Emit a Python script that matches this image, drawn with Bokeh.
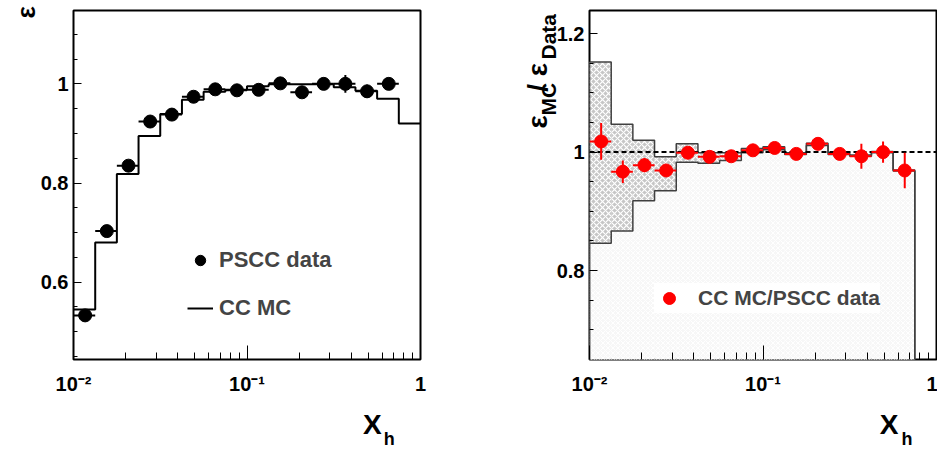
import numpy as np
from bokeh.plotting import figure
from bokeh.models import FixedTicker, Label, Legend, LegendItem, Range1d
from bokeh.layouts import row
from bokeh.embed import file_html
from bokeh.resources import INLINE

# ---------------- data ----------------
bin_edges = [0.01, 0.01334, 0.01778, 0.02371, 0.03162, 0.04217, 0.05623, 0.07499,
             0.1, 0.1334, 0.1778, 0.2371, 0.3162, 0.4217, 0.5623, 0.7499, 1.0]
mc_eff = [0.545, 0.680, 0.818, 0.895, 0.939, 0.968, 0.984, 0.988,
          0.995, 0.999, 0.999, 0.999, 0.993, 0.986, 0.970, 0.920]
data_eff = [0.533, 0.703, 0.835, 0.924, 0.938, 0.974, 0.989, 0.987,
            0.988, 1.001, 0.983, 1.000, 1.000, 0.985, 1.000]
data_err = [0.005, 0.005, 0.004, 0.004, 0.004, 0.003, 0.003, 0.003,
            0.003, 0.003, 0.004, 0.004, 0.018, 0.013, 0.004]
ratio = [1.018, 0.967, 0.978, 0.969, 0.999, 0.992, 0.993, 1.003,
         1.007, 0.997, 1.014, 0.997, 0.993, 1.000, 0.969]
ratio_err = [0.031, 0.019, 0.012, 0.006, 0.005, 0.004, 0.004, 0.004,
             0.004, 0.004, 0.005, 0.005, 0.021, 0.018, 0.030]
band_upper = [1.152, 1.047, 1.020, 0.992, 1.014, 0.999, 0.999, 1.006,
              1.009, 0.999, 1.015, 0.999, 0.995, 1.001, 0.970]
band_lower = [0.846, 0.867, 0.918, 0.935, 0.983, 0.981, 0.986, 0.999,
              1.004, 0.996, 1.011, 0.996, 0.993, 0.999, 0.968]

x_major = [0.01, 0.1, 1]
x_minor = [0.02, 0.03, 0.04, 0.05, 0.06, 0.07, 0.08, 0.09,
           0.2, 0.3, 0.4, 0.5, 0.6, 0.7, 0.8, 0.9]
x_labels = {0.01: "10\u207b\u00b2", 0.1: "10\u207b\u00b9", 1: "1"}
y1_major = [0.6, 0.8, 1.0]
y1_labels = {0.6: "0.6", 0.8: "0.8", 1.0: "1"}
y1_minor = [0.45, 0.5, 0.55, 0.65, 0.7, 0.75, 0.85, 0.9, 0.95, 1.05, 1.1]
y2_major = [0.8, 1.0, 1.2]
y2_labels = {0.8: "0.8", 1.0: "1", 1.2: "1.2"}
y2_minor = [0.7, 0.75, 0.85, 0.9, 0.95, 1.05, 1.1, 1.15]

X_RANGE = (0.01, 1.0)
Y1_RANGE = (0.444, 1.148)
Y2_RANGE = (0.650, 1.239)

FONT = "Liberation Sans"
W1, W2, H = 455, 482, 449
FL1, FL2, FT, FW, FH = 73, 134, 10, 347, 349
NB = "\u00a0"

n_pts = len(data_eff)
lo = bin_edges[:n_pts]
hi = bin_edges[1:n_pts + 1]
centers = [(a + b) / 2 for a, b in zip(lo, hi)]


def px_to_x(px, fl):
    return 10 ** (np.log10(X_RANGE[0]) + (px - fl) * (np.log10(X_RANGE[1]) - np.log10(X_RANGE[0])) / FW)


def py_to_y(py, yr):
    return yr[1] - (py - FT) * (yr[1] - yr[0]) / FH


def style(p, ymaj, ymin, ylab):
    p.grid.visible = False
    p.outline_line_color = "black"
    p.outline_line_width = 2
    p.background_fill_color = "white"
    p.border_fill_color = "white"
    ax = p.xaxis[0]
    ax.ticker = FixedTicker(ticks=x_major, minor_ticks=x_minor)
    ax.major_label_overrides = x_labels
    ay = p.yaxis[0]
    ay.ticker = FixedTicker(ticks=ymaj, minor_ticks=ymin)
    ay.major_label_overrides = ylab
    for a in (ax, ay):
        a.axis_line_color = None
        a.major_tick_out = 0
        a.minor_tick_out = 0
        a.major_tick_line_color = "black"
        a.minor_tick_line_color = "black"
        a.major_label_text_font = FONT
        a.major_label_text_font_style = "bold"
        a.major_label_text_font_size = "20px"
        a.major_label_text_color = "black"
    ax.major_tick_in = 14
    ax.minor_tick_in = 7
    ax.major_label_standoff = 13
    ay.major_tick_in = 8
    ay.minor_tick_in = 4
    ay.major_label_standoff = 5


def add_text(p, side, origin, fl, yr, px, py, text, size, angle=0.0):
    # px, py: page pixel position of the text anchor; origin: page x of figure
    p.add_layout(Label(x=px_to_x(px - origin, fl), y=py_to_y(py, yr), text=text,
                       angle=angle, text_font=FONT, text_font_style="bold",
                       text_font_size=size, text_color="black",
                       text_align="left", text_baseline="alphabetic"), side)


# ---------------- left panel ----------------
p1 = figure(width=W1, height=H, x_axis_type="log",
            x_range=Range1d(*X_RANGE), y_range=Range1d(*Y1_RANGE),
            output_backend="svg", toolbar_location=None,
            min_border_left=FL1, min_border_right=W1 - FL1 - FW,
            min_border_top=FT, min_border_bottom=H - FT - FH)
style(p1, y1_major, y1_minor, y1_labels)

r_mc = p1.step(x=bin_edges, y=mc_eff + [mc_eff[-1]], mode="after",
               line_color="black", line_width=2)
p1.segment(x0=lo, x1=hi, y0=data_eff, y1=data_eff, line_color="black", line_width=2)
p1.segment(x0=centers, x1=centers,
           y0=[v - e for v, e in zip(data_eff, data_err)],
           y1=[v + e for v, e in zip(data_eff, data_err)],
           line_color="black", line_width=2)
r_data = p1.scatter(x=centers, y=data_eff, size=13, color="black")

leg1 = Legend(items=[LegendItem(label="PSCC data", renderers=[r_data]),
                     LegendItem(label="CC MC", renderers=[r_mc])],
              location=(114, 36), background_fill_alpha=0, border_line_color=None,
              label_text_font=FONT, label_text_font_style="bold",
              label_text_font_size="22px", glyph_width=26, glyph_height=30,
              label_height=30, spacing=18, padding=0, margin=0, label_standoff=6)
p1.add_layout(leg1)

add_text(p1, "left", 0, FL1, Y1_RANGE, 25, 18, "\u03b5", "26px", np.pi / 2)
add_text(p1, "below", 0, FL1, Y1_RANGE, 362.5, 423.5, "X", "28px")
add_text(p1, "below", 0, FL1, Y1_RANGE, 383.3, 438.5, "h", "18px")

# ---------------- right panel ----------------
p2 = figure(width=W2, height=H, x_axis_type="log",
            x_range=Range1d(*X_RANGE), y_range=Range1d(*Y2_RANGE),
            output_backend="svg", toolbar_location=None,
            min_border_left=FL2, min_border_right=W2 - FL2 - FW,
            min_border_top=FT, min_border_bottom=H - FT - FH)
style(p2, y2_major, y2_minor, y2_labels)

p2.quad(left=lo, right=hi, bottom=0, top=band_lower, fill_color="#f7f7f7",
        line_color=None, hatch_pattern="diagonal_cross", hatch_color="white",
        hatch_scale=5, hatch_weight=1)
p2.quad(left=lo, right=hi, bottom=band_lower, top=band_upper, fill_color="#c6c6c6",
        line_color=None, hatch_pattern="diagonal_cross", hatch_color="white",
        hatch_scale=6, hatch_weight=1.2)


def outline(vals):
    xs, ys = [bin_edges[0]], [0.0]
    for i, v in enumerate(vals):
        xs += [bin_edges[i], bin_edges[i + 1]]
        ys += [v, v]
    xs.append(bin_edges[len(vals)])
    ys.append(0.0)
    return xs, ys


for vals in (band_lower, band_upper):
    xs, ys = outline(vals)
    p2.line(xs, ys, line_color="#404040", line_width=1.5)

p2.line(x=list(X_RANGE), y=[1.0, 1.0], line_color="black", line_width=2, line_dash="5 3")

p2.segment(x0=lo, x1=hi, y0=ratio, y1=ratio, line_color="red", line_width=2)
p2.segment(x0=centers, x1=centers,
           y0=[v - e for v, e in zip(ratio, ratio_err)],
           y1=[v + e for v, e in zip(ratio, ratio_err)],
           line_color="red", line_width=2)
r_ratio = p2.scatter(x=centers, y=ratio, size=13, color="red")

leg2 = Legend(items=[LegendItem(label="CC MC/PSCC data", renderers=[r_ratio])],
              location=(65, 46), background_fill_color="white", background_fill_alpha=1,
              border_line_color=None, label_text_font=FONT, label_text_font_style="bold",
              label_text_font_size="21px", glyph_width=30, glyph_height=30,
              label_height=30, padding=16, margin=0, label_standoff=14)
p2.add_layout(leg2)

# y title: big symbols on one line, subscripts on another
add_text(p2, "left", W1, FL2, Y2_RANGE, 537, 128, "\u03b5" + NB * 3 + "/" + NB + "\u03b5", "28px", np.pi / 2)
add_text(p2, "left", W1, FL2, Y2_RANGE, 548, 115, "MC" + NB * 4 + "Data", "21px", np.pi / 2)
add_text(p2, "below", W1, FL2, Y2_RANGE, 879.3, 423.5, "X", "28px")
add_text(p2, "below", W1, FL2, Y2_RANGE, 901, 438.5, "h", "18px")

layout = row(p1, p2)
open("out.html", "w").write(file_html(layout, INLINE))
